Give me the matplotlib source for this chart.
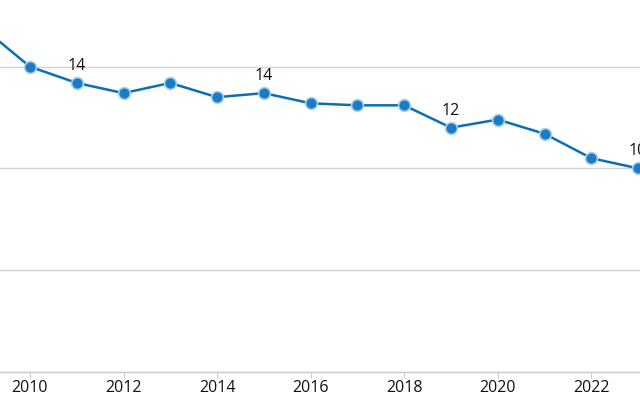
import matplotlib
matplotlib.use("Agg")
import matplotlib.pyplot as plt

years = [2009, 2010, 2011, 2012, 2013, 2014, 2015, 2016,
         2017, 2018, 2019, 2020, 2021, 2022, 2023]
values = [16.9, 15.0, 14.2, 13.7, 14.2, 13.5, 13.7, 13.2,
          13.1, 13.1, 12.0, 12.4, 11.7, 10.5, 10.0]
label_years = [2011, 2015, 2019, 2023]
xticks = [2010, 2012, 2014, 2016, 2018, 2020, 2022]
yticks = [0, 5, 10, 15]

plt.rcParams['font.family'] = ['Open Sans', 'DejaVu Sans']

fig = plt.figure(figsize=(6.4, 4), dpi=100)
ax = fig.add_axes([0, 0.0708, 1, 0.9292])

line_col = '#0a6fb4'
ax.plot(years, values, color=line_col, lw=1.8, zorder=3,
        marker='o', ms=8.5, mfc='#1a7cc2', mec='#a8d0ef', mew=1.2)

# value labels every 4 years
for y, v in zip(years, values):
    if y in label_years:
        ax.annotate(f"{v:.0f}", (y, v), xytext=(0, 6.5), textcoords='offset points',
                    ha='center', va='bottom', fontsize=11.5, color='#111111')

ax.set_xlim(2009.36, 2023.04)
ax.set_ylim(0, 18.28)
ax.set_xticks(xticks)
ax.set_yticks(yticks)
ax.set_yticklabels([])
ax.tick_params(axis='y', length=0)
ax.tick_params(axis='x', length=4, color='#cccccc', labelsize=11.5,
               labelcolor='#111111', pad=2)
ax.grid(axis='y', color='#d4d4d4', lw=1)
ax.set_axisbelow(True)
for s in ['top', 'right', 'left']:
    ax.spines[s].set_visible(False)
ax.spines['bottom'].set_color('#cccccc')
ax.spines['bottom'].set_linewidth(1)

fig.savefig('out.png', dpi=100)
